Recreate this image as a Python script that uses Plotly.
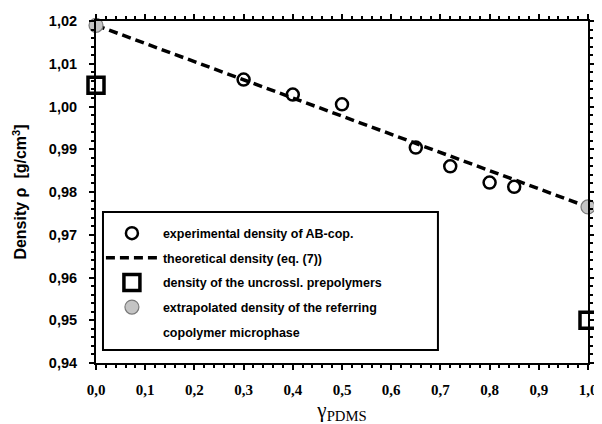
import plotly.graph_objects as go

# experimental density of AB-copolymers
exp_x = [0.30, 0.40, 0.50, 0.65, 0.72, 0.80, 0.85]
exp_y = [1.0063, 1.0028, 1.0005, 0.9904, 0.9860, 0.9822, 0.9812]
# theoretical density (eq. 7)
theo_x = [0.0, 1.0]
theo_y = [1.019, 0.9765]
# density of uncrosslinked prepolymers
pre_x = [0.0, 1.0]
pre_y = [1.005, 0.950]
# extrapolated density of the referring copolymer microphase
extr_x = [0.0, 1.0]
extr_y = [1.019, 0.9765]

x_ticks = [0.0, 0.1, 0.2, 0.3, 0.4, 0.5, 0.6, 0.7, 0.8, 0.9, 1.0]
y_ticks = [0.94, 0.95, 0.96, 0.97, 0.98, 0.99, 1.00, 1.01, 1.02]

FONT = "Liberation Sans, Arial, sans-serif"
SERIF = "Liberation Serif, Times New Roman, serif"

fig = go.Figure()
fig.add_trace(go.Scatter(
    x=theo_x, y=theo_y, mode="lines", name="theoretical density (eq. (7))",
    line=dict(color="black", width=3.5, dash="9px,5px"),
    legendrank=2, legendgroup="b", cliponaxis=False))
fig.add_trace(go.Scatter(
    x=exp_x, y=exp_y, mode="markers", name="experimental density of AB-cop.",
    marker=dict(symbol="circle-open", size=12, color="black", line=dict(width=2.5, color="black")),
    legendrank=1, legendgroup="a", cliponaxis=False))
fig.add_trace(go.Scatter(
    x=pre_x, y=pre_y, mode="markers", name="density of the uncrossl. prepolymers",
    marker=dict(symbol="square", size=16, color="white", line=dict(width=3.5, color="black")),
    legendrank=3, legendgroup="c", cliponaxis=False))
fig.add_trace(go.Scatter(
    x=extr_x, y=extr_y, mode="markers",
    name="extrapolated density of the referring",
    marker=dict(symbol="circle", size=14, color="#c4c4c4", line=dict(width=1.2, color="#7a7a7a")),
    legendrank=4, legendgroup="d", cliponaxis=False))
# second line of the last legend label (legend-only entry, no marks)
fig.add_trace(go.Scatter(
    x=[None], y=[None], mode="markers", name="copolymer microphase",
    marker=dict(size=1, color="rgba(0,0,0,0)", line=dict(width=0)),
    legendrank=5, legendgroup="e", hoverinfo="skip"))

# legend frame
fig.add_shape(type="rect", xref="paper", yref="paper",
              x0=0.0142, x1=0.695, y0=0.038, y1=0.4415,
              line=dict(color="black", width=2), fillcolor="white", layer="below")

# page body has an 8px default margin: figure is sized/margined to compensate
fig.update_layout(
    width=594, height=416,
    margin=dict(l=88, r=14, t=13, b=61),
    paper_bgcolor="white", plot_bgcolor="white",
    separators=", ",
    font=dict(family=FONT, color="black"),
    showlegend=True,
    legend=dict(x=0.01, y=0.4225, xanchor="left", yanchor="top",
                bgcolor="rgba(0,0,0,0)", borderwidth=0,
                font=dict(size=12.5, family=FONT, weight="bold"),
                tracegroupgap=5.4, itemwidth=52),
    xaxis=dict(range=[0, 1], tickvals=x_ticks, tickformat=".1f", automargin=False,
               showline=True, linewidth=2, linecolor="black", mirror="ticks",
               ticks="outside", ticklen=5, tickwidth=2, tickcolor="black",
               ticklabelstandoff=7,
               minor=dict(ticks="outside", ticklen=3, tickwidth=1.5, dtick=0.02, tickcolor="black"),
               showgrid=False, zeroline=False,
               tickfont=dict(size=15, family=SERIF, weight="bold"),
               title=dict(text="γ<sub>PDMS</sub>", font=dict(size=21, family=SERIF), standoff=16)),
    yaxis=dict(range=[0.94, 1.02], tickvals=y_ticks, tickformat=".2f", automargin=False,
               showline=True, linewidth=2, linecolor="black", mirror="ticks",
               ticks="outside", ticklen=5, tickwidth=2, tickcolor="black",
               ticklabelstandoff=9,
               minor=dict(ticks="outside", ticklen=3, tickwidth=1.5, dtick=0.002, tickcolor="black"),
               showgrid=False, zeroline=False,
               tickfont=dict(size=14.5, family=FONT, weight="bold"),
               title=dict(text="Density ρ  [g/cm<sup>3</sup>]", font=dict(size=16, family=FONT, weight="bold"), standoff=18)),
)

fig.write_html("out.html")
